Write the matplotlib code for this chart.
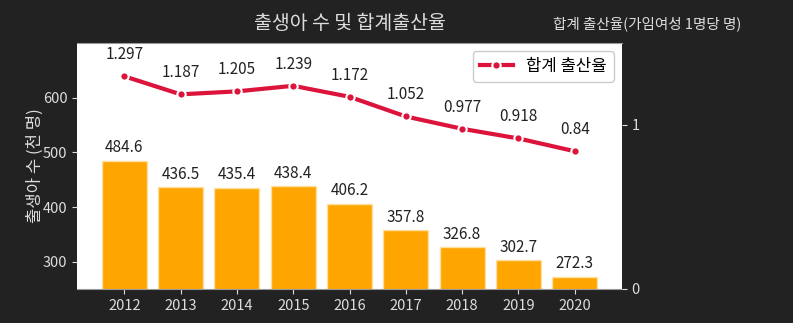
import matplotlib.pyplot as plt
plt.rcParams['font.family'] = ['Noto Sans CJK KR', 'DejaVu Sans']
plt.rcParams['axes.unicode_minus'] = False

# Data
years = ['2012', '2013', '2014', '2015', '2016', '2017', '2018', '2019', '2020']
births = [484.6, 436.5, 435.4, 438.4, 406.2, 357.8, 326.8, 302.7, 272.3]
tfr = [1.297, 1.187, 1.205, 1.239, 1.172, 1.052, 0.977, 0.918, 0.84]

bg = '#222222'
fig = plt.figure(figsize=(7.93, 3.23), dpi=100, facecolor=bg)
ax = fig.add_axes([77/793, 1-289/323, 545/793, 246/323])
ax.set_facecolor('white')

bars = ax.bar(years, births, color='orange', edgecolor='#ffe0a0', linewidth=1, width=0.8)
for b, v in zip(bars, births):
    ax.text(b.get_x() + b.get_width()/2, v + 8, str(v), ha='center', va='bottom',
            fontsize=11, color='#222222')
ax.set_ylim(250, 700)
ax.set_yticks([300, 400, 500, 600])
ax.set_ylabel('출생아 수 (천 명)', color='#dddddd', fontsize=12, labelpad=-1)
ax.tick_params(colors='#dddddd', labelsize=10.5)
for s in ['left', 'right']:
    ax.spines[s].set_visible(False)
for s in ['top', 'bottom']:
    ax.spines[s].set_color('#999999')

ax2 = ax.twinx()
ax2.plot(years, tfr, color='crimson', linewidth=3, marker='o', markersize=6,
         markeredgecolor='white', markeredgewidth=1.5, label='합계 출산율')
for x, v in zip(years, tfr):
    ax2.text(x, v + 0.08, str(v), ha='center', va='bottom', fontsize=11, color='#222222')
ax2.set_ylim(0, 1.5)
ax2.set_yticks([0, 1])
ax2.tick_params(colors='#dddddd', labelsize=10.5)
for s in ['left', 'right', 'top', 'bottom']:
    ax2.spines[s].set_visible(False)
ax2.set_ylabel('합계 출산율(가임여성 1명당 명)', rotation=0, color='#dddddd', fontsize=10.5,
               ha='center', va='center')
ax2.yaxis.set_label_coords(1.046, 1.077)
ax2.legend(loc='upper right', fontsize=12, framealpha=1)

ax.set_title('출생아 수 및 합계출산율', color='#dddddd', fontsize=14, pad=10)

fig.savefig('out.png', dpi=100, facecolor=bg)
